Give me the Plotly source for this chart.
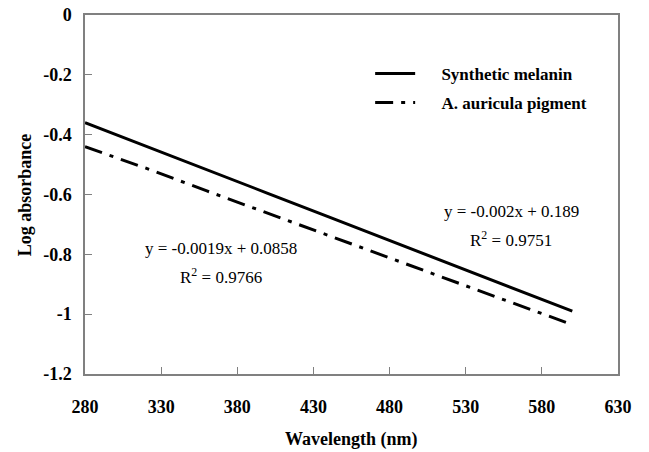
import plotly.graph_objects as go

wavelength = [280, 320, 360, 400, 440, 480, 520, 560, 600]
synthetic_melanin = [-0.360, -0.438, -0.517, -0.596, -0.675, -0.754, -0.833, -0.911, -0.990]
auricula_pigment = [-0.440, -0.512, -0.588, -0.663, -0.737, -0.812, -0.887, -0.961, -1.035]

x_ticks = [280, 330, 380, 430, 480, 530, 580, 630]
y_ticks = [0, -0.2, -0.4, -0.6, -0.8, -1, -1.2]
y_tick_labels = ["0", "-0.2", "-0.4", "-0.6", "-0.8", "-1", "-1.2"]

serif = "Liberation Serif, Times New Roman, serif"
pad = "\u00a0\u00a0\u00a0\u00a0\u00a0"

fig = go.Figure()
fig.add_trace(go.Scatter(
    x=wavelength, y=synthetic_melanin, mode="lines", name=pad + "Synthetic melanin",
    line=dict(color="black", width=3), legendgroup="a"))
fig.add_trace(go.Scatter(
    x=wavelength, y=auricula_pigment, mode="lines", name=pad + "A. auricula pigment",
    line=dict(color="black", width=3, dash="18px,8px,4px,8px"), legendgroup="b"))

axis_common = dict(
    showline=True, linecolor="#808080", linewidth=1.5, mirror=True,
    ticks="inside", ticklen=7, tickcolor="#808080", tickwidth=1,
    showgrid=False, zeroline=False, automargin=False,
    tickfont=dict(family=serif, size=18, color="black", weight="bold"),
)

fig.update_xaxes(range=[280, 630], tickvals=x_ticks, ticklabelstandoff=16, **axis_common)
fig.update_yaxes(range=[-1.2, 0], tickvals=y_ticks, ticktext=y_tick_labels,
                 ticklabelstandoff=8, **axis_common)

fig.update_layout(
    template="none",
    width=649, height=452,
    margin=dict(l=85, r=31, t=15, b=78, autoexpand=False),
    paper_bgcolor="white", plot_bgcolor="white",
    showlegend=True,
    legend=dict(x=0.535, y=0.886, xanchor="left", yanchor="top",
                bgcolor="rgba(0,0,0,0)", borderwidth=0,
                font=dict(family=serif, size=17, color="black", weight="bold"),
                tracegroupgap=4, traceorder="grouped", itemwidth=40),
    annotations=[
        dict(text="Wavelength (nm)", x=0.5, y=-0.182, xref="paper", yref="paper",
             xanchor="center", yanchor="middle", showarrow=False,
             font=dict(family=serif, size=18, color="black", weight="bold")),
        dict(text="Log absorbance", x=-0.113, y=0.5, xref="paper", yref="paper",
             xanchor="center", yanchor="middle", showarrow=False, textangle=-90,
             font=dict(family=serif, size=18, color="black", weight="bold")),
        dict(text="y = -0.0019x + 0.0858", x=369, y=-0.78, showarrow=False,
             xanchor="center", yanchor="middle",
             font=dict(family=serif, size=17, color="black")),
        dict(text="R<sup>2</sup> = 0.9766", x=369, y=-0.872, showarrow=False,
             xanchor="center", yanchor="middle",
             font=dict(family=serif, size=17, color="black")),
        dict(text="y = -0.002x + 0.189", x=560, y=-0.657, showarrow=False,
             xanchor="center", yanchor="middle",
             font=dict(family=serif, size=17, color="black")),
        dict(text="R<sup>2</sup> = 0.9751", x=560, y=-0.749, showarrow=False,
             xanchor="center", yanchor="middle",
             font=dict(family=serif, size=17, color="black")),
    ],
)

fig.write_html("out.html", config={"displayModeBar": False},
               post_script="document.body.style.margin='0';document.body.style.overflow='hidden';")
